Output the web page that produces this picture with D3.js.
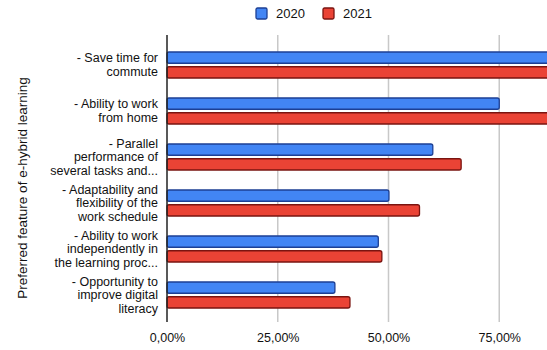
<!DOCTYPE html>
<html><head><meta charset="utf-8">
<script src="https://cdn.jsdelivr.net/npm/d3@7"></script>
<style>html,body{margin:0;padding:0;background:#fff;overflow:hidden}</style>
</head><body>
<svg id="c" width="547" height="350"></svg>
<script>
const categories = [
  ["- Save time for", "commute"],
  ["- Ability to work", "from home"],
  ["- Parallel", "performance of", "several tasks and..."],
  ["- Adaptability and", "flexibility of the", "work schedule"],
  ["- Ability to work", "independently in", "the learning proc..."],
  ["- Opportunity to", "improve digital", "literacy"]
];
const seriesNames = ["2020", "2021"];
const values2020 = [0.90, 0.75, 0.60, 0.501, 0.477, 0.379];
const values2021 = [0.92, 0.88, 0.664, 0.570, 0.485, 0.413];
const tickValues = [0, 0.25, 0.5, 0.75];
const yTitle = "Preferred feature of e-hybrid learning";

const colors = {fill: ["#4285f4", "#ea4335"], stroke: ["#1c3f94", "#7a1410"]};
const svg = d3.select("#c");
const font = "Arial, 'Liberation Sans', sans-serif";

const x = d3.scaleLinear().domain([0, 1]).range([167, 610]);
const y0 = d3.scaleBand().domain(d3.range(categories.length)).range([42, 318]).paddingInner(0).paddingOuter(0);
const y1 = d3.scaleBand().domain(seriesNames).range([10, 36]).paddingInner(0.24);

const loc = d3.formatLocale({decimal: ",", thousands: ".", grouping: [3], currency: ["", "€"]});
const fmt = loc.format(".2%");

// gridlines
svg.append("g").selectAll("line").data(tickValues.filter(d => d > 0)).join("line")
  .attr("x1", d => x(d)).attr("x2", d => x(d)).attr("y1", 35).attr("y2", 322)
  .attr("stroke", "#c8c8c8").attr("stroke-width", 1.5);

// bars
const rows = categories.map((c, i) => ({i, vals: [values2020[i], values2021[i]]}));
const g = svg.append("g");
rows.forEach(r => {
  r.vals.forEach((v, k) => {
    g.append("rect")
      .attr("x", x(0)).attr("y", y0(r.i) + y1(seriesNames[k]))
      .attr("width", x(v) - x(0)).attr("height", y1.bandwidth())
      .attr("rx", 2)
      .attr("fill", colors.fill[k]).attr("stroke", colors.stroke[k]).attr("stroke-width", 1.3);
  });
});

// y axis line
svg.append("line").attr("x1", 167).attr("x2", 167).attr("y1", 35).attr("y2", 322)
  .attr("stroke", "#222").attr("stroke-width", 1.5);

// category labels
const lh = 13.5;
categories.forEach((lines, i) => {
  const cy = y0(i) + y0.bandwidth() / 2;
  const t = svg.append("text").attr("text-anchor", "end").attr("font-family", font)
    .attr("font-size", 12.5).attr("fill", "#111");
  lines.forEach((ln, j) => {
    t.append("tspan").attr("x", 158)
      .attr("y", cy + (j - (lines.length - 1) / 2) * lh + 4).text(ln);
  });
});

// x axis labels
const xa = svg.append("g").attr("transform", "translate(0,322)")
  .call(d3.axisBottom(x).tickValues(tickValues).tickFormat(fmt).tickSize(0).tickPadding(11));
xa.select(".domain").remove();
xa.selectAll("text").attr("font-family", font).attr("font-size", 12.5).attr("fill", "#111");

// y title
svg.append("text").attr("transform", "translate(27,188) rotate(-90)")
  .attr("text-anchor", "middle").attr("font-family", font).attr("font-size", 13.5)
  .attr("fill", "#111").text(yTitle);

// legend
const leg = svg.append("g");
const legX = [256, 323];
seriesNames.forEach((s, k) => {
  leg.append("rect").attr("x", legX[k]).attr("y", 8).attr("width", 11).attr("height", 11).attr("rx", 1.5)
    .attr("fill", colors.fill[k]).attr("stroke", colors.stroke[k]).attr("stroke-width", 1.3);
  leg.append("text").attr("x", legX[k] + 20).attr("y", 18).attr("font-family", font)
    .attr("font-size", 13).attr("fill", "#111").text(s);
});
</script>
</body></html>
